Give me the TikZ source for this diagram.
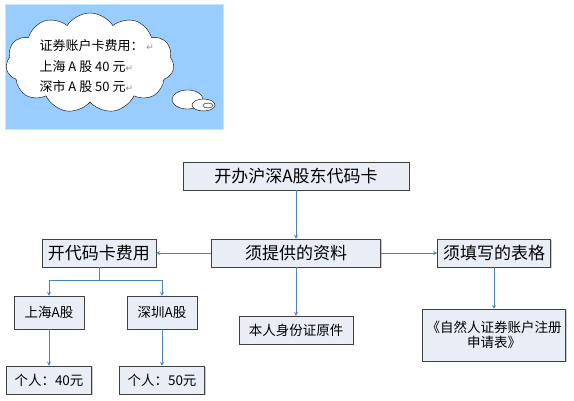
\documentclass[tikz,border=0pt]{standalone}
\usepackage{fontspec}
\setmainfont{Liberation Serif}
\newfontfamily\cjk{Noto Sans CJK SC}
\newfontfamily\symfont{DejaVu Sans}
\usetikzlibrary{shapes.symbols, shapes.geometric, arrows, positioning, shadows}
\definecolor{skyblue}{HTML}{99CCFF}
\definecolor{boxfill}{HTML}{E8EDF6}
\definecolor{linkblue}{HTML}{4F81BD}
\tikzstyle{bigbox} = [rectangle, minimum height=28pt, text centered, draw=black!75, fill=boxfill, drop shadow={shadow xshift=1pt, shadow yshift=-1pt, fill=black!40}, font=\cjk\fontsize{17}{19}\selectfont]
\tikzstyle{smallbox} = [rectangle, minimum height=28pt, text centered, draw=black!75, fill=boxfill, drop shadow={shadow xshift=1pt, shadow yshift=-1pt, fill=black!40}, font=\cjk\fontsize{13.5}{15}\selectfont]
\tikzstyle{arrow} = [->, >=stealth, draw=linkblue, thick]
\newcommand{\parmark}{{\symfont\fontsize{9}{9}\selectfont\color{black!45}↵}}

\begin{document}
\begin{tikzpicture}[x=1pt, y=1pt, node distance=77pt]
    \useasboundingbox (0,0) rectangle (574,400);
    % note with the card fees
    \draw [draw=cyan!25, fill=skyblue] (5,271) rectangle (223,396);
    \node (cloud) [cloud, cloud puffs=11, cloud puff arc=115, aspect=1.7, draw, fill=white, minimum width=168pt, minimum height=100pt] at (90,337) {};
    \node (bubblea) [ellipse, draw, fill=white, minimum width=31pt, minimum height=19pt, inner sep=0pt] at (187.5,300.5) {};
    \node (bubbleb) [ellipse, draw, fill=white, minimum width=23pt, minimum height=12pt, inner sep=0pt] at (203.5,295) {};
    \node (bubblec) [ellipse, draw, fill=white, minimum width=10pt, minimum height=5pt, inner sep=0pt] at (208,294.5) {};
    \node (fees) [anchor=west, align=left, font=\cjk\fontsize{13}{20.5}\selectfont] at (36,333.5)
        {证券账户卡费用：\ \parmark\\上海 A 股 40 元\parmark\\深市 A 股 50 元\parmark};

    \node (top) [bigbox, minimum width=226pt] at (296,224) {开办沪深A股东代码卡};
    \node (need) [bigbox, minimum width=169pt, below of=top] {须提供的资料};
    \node (fill) [bigbox, minimum width=113pt, right of=need, xshift=121pt] {须填写的表格};
    \node (cost) [bigbox, minimum width=114pt, left of=need, xshift=-120pt] {开代码卡费用};
    \node (idcard) [smallbox, minimum width=114pt, below of=need] {本人身份证原件};
    \node (form) [smallbox, text width=139pt, inner sep=2pt, minimum height=52pt, align=center, below of=fill, yshift=-5pt] {《自然人证券账户注册\\申请表》};
    \node (sh) [smallbox, minimum width=70pt, minimum height=33pt, below of=cost, xshift=-50pt, yshift=17.5pt] {上海A股};
    \node (sz) [smallbox, minimum width=70pt, minimum height=33pt, below of=cost, xshift=63pt, yshift=17.5pt] {深圳A股};
    \node (shfee) [smallbox, minimum width=85pt, below of=sh, yshift=9.5pt] {个人：40元};
    \node (szfee) [smallbox, minimum width=85pt, below of=sz, yshift=9.5pt] {个人：50元};
    \coordinate (fork) at (99,120);

    \draw [arrow] (top) -- (need);
    \draw [arrow] (need) -- (fill);
    \draw [arrow] (need) -- (cost);
    \draw [arrow] (need) -- (idcard);
    \draw [arrow] (fill) -- (form);
    \draw [draw=linkblue, thick] (cost) -- (fork);
    \draw [arrow] (fork) -| (sh);
    \draw [arrow] (fork) -| (sz);
    \draw [arrow] (sh) -- (shfee);
    \draw [arrow] (sz) -- (szfee);
\end{tikzpicture}
\end{document}
